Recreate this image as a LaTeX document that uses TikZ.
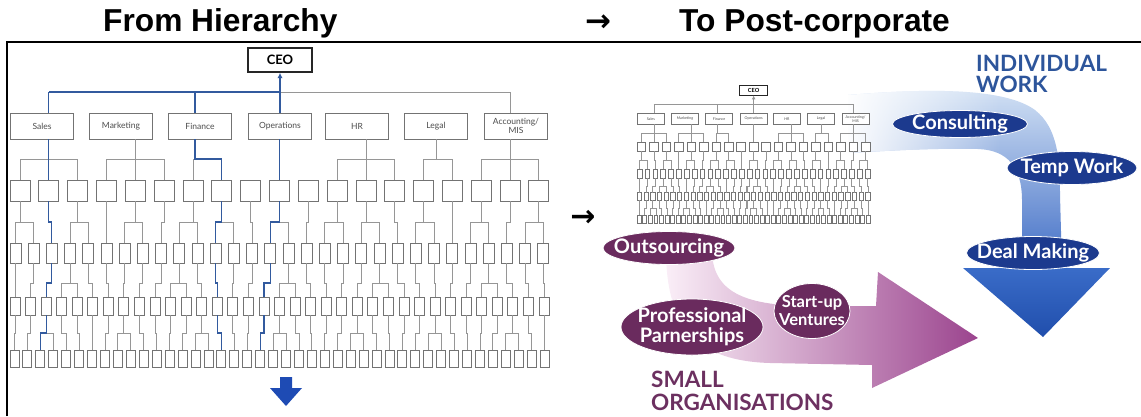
\documentclass[tikz,border=0pt]{standalone}
\usepackage{fontspec}
\setmainfont{Liberation Sans}
\newfontfamily\gill{Lato}
\newfontfamily\symfont{DejaVu Sans}
\usetikzlibrary{shapes.geometric,fadings,arrows.meta}

\definecolor{linegray}{RGB}{150,150,150}
\definecolor{boxgray}{RGB}{115,115,115}
\definecolor{hlblue}{RGB}{50,90,158}
\definecolor{arrowblue}{RGB}{30,75,180}
\definecolor{navy}{RGB}{28,58,142}
\definecolor{plum}{RGB}{106,43,94}
\definecolor{indblue}{RGB}{45,85,155}
\definecolor{orgpurple}{RGB}{108,48,96}
\definecolor{bandtop}{RGB}{210,225,244}
\definecolor{bandbot}{RGB}{65,110,198}
\definecolor{headtop}{RGB}{58,108,200}
\definecolor{headbot}{RGB}{32,78,172}
\definecolor{pinklight}{RGB}{250,238,247}
\definecolor{pinkmid}{RGB}{208,150,198}
\definecolor{purpdark}{RGB}{155,68,142}

\tikzfading[name=fadeleft, left color=transparent!0, right color=transparent!100]

\tikzset{
  title/.style={font=\bfseries\fontsize{31.7}{36}\selectfont, inner sep=0},
  chartline/.style={draw=linegray},
  ceobox/.style={draw=black!85, fill=white, minimum width=64, minimum height=24,
    inner sep=0, font=\gill\bfseries\fontsize{13}{13}\selectfont},
  deptbox/.style={draw=boxgray, fill=white, minimum width=63, minimum height=26,
    inner sep=0, align=center, text=black!70, font=\gill\fontsize{8.5}{9}\selectfont},
  rowbox/.style={draw=boxgray, fill=white, inner sep=0},
  boxtwo/.style={rowbox, minimum width=20, minimum height=21},
  boxthree/.style={rowbox, minimum width=11, minimum height=20},
  boxfour/.style={rowbox, minimum width=10, minimum height=18},
  boxfive/.style={rowbox, minimum width=9, minimum height=17},
  oval/.style={ellipse, fill=#1, draw=white, line width=0.8, inner sep=0},
  ovaltext/.style={text=white, inner sep=0, align=center,
    font=\gill\bfseries\fontsize{20}{20}\selectfont},
  bigword/.style={inner sep=0, anchor=base west, font=\gill\bfseries\fontsize{22.5}{23}\selectfont}
}

% link from a box down to a box of the next row, jogging at height #4
\newcommand\rowlink[4][]{\draw[chartline,#1] (#3.north) |- (#2.south |- 0,#4) -- (#2.south);}
% bracket over boxes #2..#3 of the second row
\newcommand\deptbracket[3]{\draw[chartline] (#1r2-#2.north) -- (#1r2-#2.north |- 0,159)
  -- (#1r2-#3.north |- 0,159) -- (#1r2-#3.north);}

% the hierarchy chart: #1 name prefix, #2 colour of the highlighted lines, #3 line width
\newcommand\orgchart[3]{%
\begin{scope}[line width=#3, hl/.style={draw=#2, line width=1.25*#3}]
  \node[ceobox, line width=1.8*#3] (#1ceo) at (280,60) {CEO};
  \node[deptbox] (#1sal) at (42,126) {Sales};
  \node[deptbox] (#1mkt) at (121,126) {Marketing};
  \node[deptbox] (#1fin) at (200,126) {Finance};
  \node[deptbox] (#1ops) at (280,126) {Operations};
  \node[deptbox] (#1hr) at (357,126) {HR};
  \node[deptbox] (#1leg) at (436,126) {Legal};
  \node[deptbox] (#1acc) at (516,126) {Accounting/\\MIS};
  \foreach \i in {0,...,18} \node[boxtwo] (#1r2-\i) at ({20+28.83*\i},190.5) {};
  \foreach \i in {0,...,29} \node[boxthree] (#1r3-\i) at ({15.5+18.2*\i},253) {};
  \foreach \i in {0,...,34} \node[boxfour] (#1r4-\i) at ({15+15.56*\i},306) {};
  \foreach \i in {0,...,41} \node[boxfive] (#1r5-\i) at ({14.5+12.93*\i},358.5) {};
  \coordinate (#1fdrop) at (195,92);
  % top level
  \draw[chartline] (#1r2-1.north |- 0,92) -- (#1r2-17.north |- 0,92);
  \draw[chartline] (#1r2-17.north |- 0,92) -- (#1r2-17.north |- #1acc.north);
  % departments to second row
  \draw[chartline] (#1r2-1.north |- #1sal.south) -- (#1r2-1.north);
  \deptbracket{#1}{0}{2}
  \draw[chartline] (#1r2-4.north |- #1mkt.south) -- (#1r2-4.north);
  \deptbracket{#1}{3}{5}
  \deptbracket{#1}{6}{7}
  \draw[chartline] (#1r2-12.north |- #1hr.south) -- (#1r2-12.north);
  \deptbracket{#1}{11}{13}
  \draw[chartline] (#1leg.south) -- (#1leg.south |- 0,159);
  \deptbracket{#1}{14}{15}
  \draw[chartline] (#1r2-17.north |- #1acc.south) -- (#1r2-17.north);
  \deptbracket{#1}{16}{18}
  % lower rows
  \foreach \j in {0,...,29}{%
    \pgfmathtruncatemacro\p{min(18,max(0,round((15.5+18.2*\j-20)/28.83)))}%
    \rowlink{#1r2-\p}{#1r3-\j}{222}}
  \foreach \j in {0,...,34}{%
    \pgfmathtruncatemacro\p{min(29,max(0,round((15+15.56*\j-15.5)/18.2)))}%
    \rowlink{#1r3-\p}{#1r4-\j}{283}}
  \foreach \j in {0,...,41}{%
    \pgfmathtruncatemacro\p{min(34,max(0,round((14.5+12.93*\j-15)/15.56)))}%
    \rowlink{#1r4-\p}{#1r5-\j}{333}}
  % highlighted lines of authority
  \draw[hl] (#1r2-1.north |- 0,92) -- (#1ceo.south |- 0,92);
  \draw[hl] (#1r2-1.north |- 0,92) -- (#1r2-1.north |- #1sal.north);
  \draw[hl] (#1fdrop) -- (#1fdrop |- #1fin.north);
  \draw[hl] (#1ceo.south |- 0,92) -- (#1ops.north);
  \draw[hl, -{Latex[length=2pt 3, width=2pt 3]}] (#1ceo.south |- 0,92) -- (#1ceo.south);
  \draw[hl] (#1r2-1.north |- #1sal.south) -- (#1r2-1.north);
  \draw[hl] (#1fdrop |- #1fin.south) -- (#1fdrop |- 0,159) -- (#1r2-7.north |- 0,159) -- (#1r2-7.north);
  \draw[hl] (#1r2-9.north |- #1ops.south) -- (#1r2-9.north);
  \rowlink[hl]{#1r2-1}{#1r3-2}{222}
  \rowlink[hl]{#1r3-2}{#1r4-2}{283}
  \rowlink[hl]{#1r4-2}{#1r5-2}{333}
  \rowlink[hl]{#1r2-7}{#1r3-11}{222}
  \rowlink[hl]{#1r3-11}{#1r4-13}{283}
  \rowlink[hl]{#1r4-13}{#1r5-16}{333}
  \rowlink[hl]{#1r2-9}{#1r3-14}{222}
  \rowlink[hl]{#1r3-14}{#1r4-16}{283}
  \rowlink[hl]{#1r4-16}{#1r5-19}{333}
\end{scope}}

\newcommand\bandpath{(848,95) .. controls (930,88) and (1005,88) .. (1035,110)
  .. controls (1058,128) and (1060,160) .. (1060,195) -- (1062,268) -- (1022,268)
  -- (1022,200) .. controls (1022,168) and (1008,150) .. (978,149)
  .. controls (930,148) and (885,151) .. (848,153) -- cycle}

\newcommand\purplepath{(666,250) -- (712,250) .. controls (712,292) and (745,305) .. (805,306)
  -- (876,306) -- (878,272) -- (978,338) -- (872,388) -- (872,365) -- (770,363)
  .. controls (700,361) and (666,330) .. (666,250) -- cycle}

\begin{document}
\begin{tikzpicture}[x=1pt,y=-1pt]
\useasboundingbox (0,0) rectangle (1141,416);

% headings and frame
\node[title, anchor=base west] (from) at (103,31) {From Hierarchy};
\node[anchor=base, inner sep=0, font=\symfont\bfseries\fontsize{31}{31}\selectfont] (hdarrow) at (598,31) {→};
\node[title, anchor=base west] (to) at (679,31) {To Post-corporate};
\draw[line width=2.2] (7,416) -- (7,42) -- (1141,42);

% the hierarchy
\orgchart{L}{hlblue}{0.9pt}
\fill[arrowblue] (280,377) -- (292,377) -- (292,388) -- (302,388) -- (286,406)
  -- (270,388) -- (280,388) -- cycle;

\node[inner sep=0, font=\symfont\bfseries\fontsize{30}{30}\selectfont] (midarrow) at (583,218) {→};

% individual work: curved blue arrow
\shade[top color=bandtop, bottom color=bandbot] \bandpath;
\begin{scope}
  \clip \bandpath;
  \fill[white, path fading=fadeleft] (845,80) rectangle (1000,160);
\end{scope}
\shade[top color=headtop, bottom color=headbot] (963,268) -- (1110,268) -- (1043,337) -- cycle;

% the small hierarchy
\begin{scope}[shift={(632.7,64.3)}, scale=0.432, transform shape]
  \orgchart{S}{linegray}{0.45pt}
\end{scope}

% small organisations: purple arrow
\shade[left color=pinklight, middle color=pinkmid, right color=purpdark] \purplepath;

\node[oval=navy, minimum width=135, minimum height=27] (cons) at (960,124) {};
\node[ovaltext] (cons-t) at (cons) {Consulting};
\node[oval=navy, minimum width=130, minimum height=33] (temp) at (1072,168) {};
\node[ovaltext] (temp-t) at (temp) {Temp Work};
\node[oval=navy, minimum width=133, minimum height=33] (deal) at (1033,253) {};
\node[ovaltext] (deal-t) at (deal) {Deal Making};

\node[oval=plum, minimum width=132, minimum height=33] (outs) at (669,248) {};
\node[ovaltext] (outs-t) at (outs) {Outsourcing};
\node[oval=plum, minimum width=142, minimum height=56] (prof) at (692,327) {};
\node[ovaltext] (prof-t) at (prof) {Professional\\Parnerships};
\node[oval=plum, minimum width=76, minimum height=55] (start) at (812,311) {};
\node[ovaltext, font=\gill\bfseries\fontsize{16.5}{18}\selectfont] (start-t) at (start) {Start-up\\Ventures};

\node[bigword, text=indblue] (indiv) at (976,71) {INDIVIDUAL};
\node[bigword, text=indblue] (work) at (976,92) {WORK};
\node[bigword, text=orgpurple] (small) at (651,387) {SMALL};
\node[bigword, text=orgpurple] (orgs) at (651,410) {ORGANISATIONS};
\end{tikzpicture}
\end{document}
